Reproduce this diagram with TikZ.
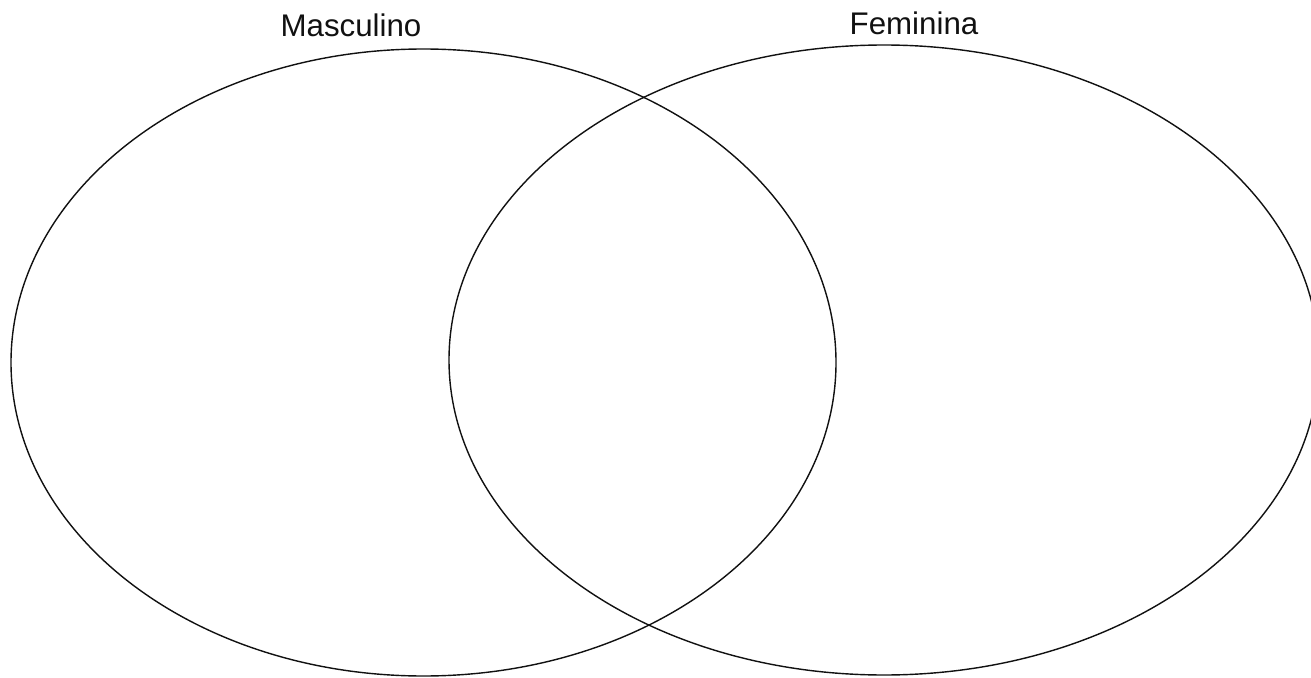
\documentclass[tikz,border=0pt]{standalone}
\usepackage{fontspec}
\setmainfont{Liberation Sans}
\definecolor{Ink}{HTML}{111111}
\begin{document}
\begin{tikzpicture}[x=.02cm,y=.02cm,every node/.style={font=\fontsize{17.8}{20}\selectfont,text=Ink},setline/.style={draw=Ink,line width=.8pt}]
\useasboundingbox (0,0) rectangle (1311,677);
\draw[setline] (423.5,314.5) ellipse [x radius=412.5,y radius=313.5]; \draw[setline] (884,317) ellipse [x radius=435,y radius=315];
\node[anchor=base] (masc) at (351,640){Masculino}; \node[anchor=base] (fem) at (914,642){Feminina};
\end{tikzpicture}
\end{document}
